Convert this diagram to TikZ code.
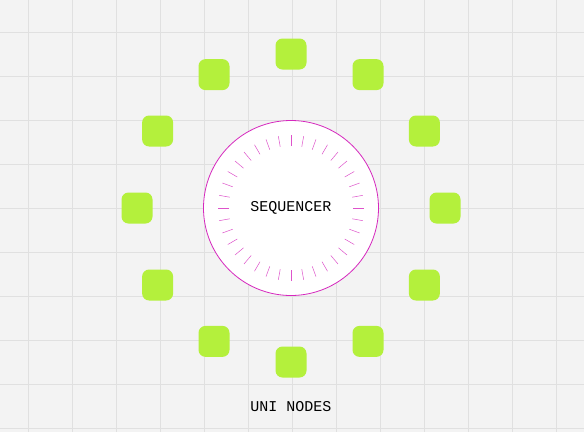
\documentclass[tikz,border=0pt]{standalone}
\usepackage{fontspec}
\setmonofont{Liberation Mono}
\definecolor{canvasgray}{RGB}{243,243,243}
\definecolor{gridgray}{RGB}{224,224,224}
\definecolor{unigreen}{RGB}{180,240,60}
\definecolor{seqmagenta}{RGB}{214,40,190}

\begin{document}
\begin{tikzpicture}[x=1pt, y=-1pt,
  sequencer/.style={circle, draw=seqmagenta, line width=0.8pt, fill=white, minimum size=175pt, inner sep=0pt, font=\ttfamily\fontsize{15}{18}\selectfont},
  uninode/.style={rectangle, fill=unigreen, rounded corners=7pt, minimum size=31pt, inner sep=0pt},
  caption/.style={font=\ttfamily\fontsize{15}{18}\selectfont},
  seqtick/.style={draw=seqmagenta!80, line width=0.5pt},
  gridline/.style={draw=gridgray, line width=0.7pt}]

  \useasboundingbox (0,0) rectangle (584,432);
  \fill[canvasgray] (0,0) rectangle (584,432);
  \foreach \gx in {28,72,...,556} \draw[gridline] (\gx,0) -- (\gx,432);
  \foreach \gy in {32,76,...,428} \draw[gridline] (0,\gy) -- (584,\gy);

  \node [sequencer] (seq) at (291,208) {SEQUENCER};
  \foreach \a in {0,10,...,350}
    \draw [seqtick] ([shift={(\a:62)}]seq.center) -- ([shift={(\a:73)}]seq.center);

  \foreach \i in {1,...,12}
    \node [uninode] (uni\i) at ([shift={(\i*30:154)}]seq.center) {};

  \node [caption] (unilabel) at (291,407) {UNI NODES};
\end{tikzpicture}
\end{document}
